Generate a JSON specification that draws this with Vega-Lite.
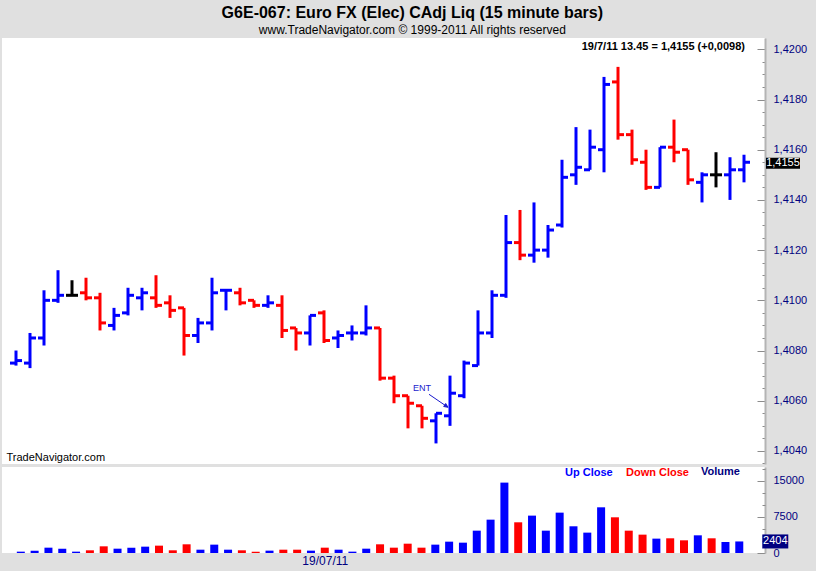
{
  "$schema": "https://vega.github.io/schema/vega-lite/v6.json",
  "background": "#e0e0e0",
  "padding": {"left": 2, "top": 5, "right": 20, "bottom": 10},
  "config": {
    "locale": {"number": {"decimal": ",", "thousands": ".", "grouping": [3], "currency": ["", " €"]}},
    "view": {"stroke": null, "fill": "white"},
    "font": "Liberation Sans",
    "axis": {"grid": false}
  },
  "title": {
    "text": "G6E-067:  Euro FX (Elec) CAdj Liq  (15 minute bars)",
    "subtitle": "www.TradeNavigator.com © 1999-2011 All rights reserved",
    "font": "Liberation Sans",
    "fontSize": 16,
    "fontWeight": "bold",
    "color": "black",
    "subtitleFont": "Liberation Sans",
    "subtitleFontSize": 12,
    "subtitleColor": "black",
    "subtitlePadding": 4,
    "anchor": "middle",
    "dx": 8,
    "offset": 2
  },
  "datasets": {
    "bars": [
      {"bar": 0, "open": 1.4075, "high": 1.4080, "low": 1.4074, "close": 1.4076, "volume": 280, "dir": "up", "vol_close": "Up Close"},
      {"bar": 1, "open": 1.4075, "high": 1.4087, "low": 1.4073, "close": 1.4085, "volume": 490, "dir": "up", "vol_close": "Up Close"},
      {"bar": 2, "open": 1.4085, "high": 1.4104, "low": 1.4082, "close": 1.4100, "volume": 1110, "dir": "up", "vol_close": "Up Close"},
      {"bar": 3, "open": 1.4100, "high": 1.4112, "low": 1.4099, "close": 1.4102, "volume": 900, "dir": "up", "vol_close": "Up Close"},
      {"bar": 4, "open": 1.4102, "high": 1.4108, "low": 1.4102, "close": 1.4102, "volume": 280, "dir": "unch", "vol_close": "Up Close"},
      {"bar": 5, "open": 1.4103, "high": 1.4109, "low": 1.4100, "close": 1.4101, "volume": 560, "dir": "down", "vol_close": "Down Close"},
      {"bar": 6, "open": 1.4101, "high": 1.4103, "low": 1.4088, "close": 1.4091, "volume": 1390, "dir": "down", "vol_close": "Down Close"},
      {"bar": 7, "open": 1.4090, "high": 1.4097, "low": 1.4088, "close": 1.4094, "volume": 900, "dir": "up", "vol_close": "Up Close"},
      {"bar": 8, "open": 1.4095, "high": 1.4105, "low": 1.4094, "close": 1.4102, "volume": 1110, "dir": "up", "vol_close": "Up Close"},
      {"bar": 9, "open": 1.4101, "high": 1.4105, "low": 1.4096, "close": 1.4103, "volume": 1320, "dir": "up", "vol_close": "Up Close"},
      {"bar": 10, "open": 1.4101, "high": 1.4110, "low": 1.4097, "close": 1.4098, "volume": 1530, "dir": "down", "vol_close": "Down Close"},
      {"bar": 11, "open": 1.4099, "high": 1.4102, "low": 1.4093, "close": 1.4096, "volume": 560, "dir": "down", "vol_close": "Down Close"},
      {"bar": 12, "open": 1.4097, "high": 1.4097, "low": 1.4078, "close": 1.4086, "volume": 1810, "dir": "down", "vol_close": "Down Close"},
      {"bar": 13, "open": 1.4086, "high": 1.4093, "low": 1.4083, "close": 1.4091, "volume": 690, "dir": "up", "vol_close": "Up Close"},
      {"bar": 14, "open": 1.4091, "high": 1.4109, "low": 1.4088, "close": 1.4103, "volume": 1740, "dir": "up", "vol_close": "Up Close"},
      {"bar": 15, "open": 1.4104, "high": 1.4104, "low": 1.4096, "close": 1.4104, "volume": 690, "dir": "up", "vol_close": "Up Close"},
      {"bar": 16, "open": 1.4103, "high": 1.4105, "low": 1.4098, "close": 1.4099, "volume": 560, "dir": "down", "vol_close": "Down Close"},
      {"bar": 17, "open": 1.4100, "high": 1.4100, "low": 1.4097, "close": 1.4098, "volume": 280, "dir": "down", "vol_close": "Down Close"},
      {"bar": 18, "open": 1.4098, "high": 1.4102, "low": 1.4097, "close": 1.4099, "volume": 490, "dir": "up", "vol_close": "Up Close"},
      {"bar": 19, "open": 1.4098, "high": 1.4102, "low": 1.4085, "close": 1.4088, "volume": 690, "dir": "down", "vol_close": "Down Close"},
      {"bar": 20, "open": 1.4089, "high": 1.4089, "low": 1.4080, "close": 1.4087, "volume": 690, "dir": "down", "vol_close": "Down Close"},
      {"bar": 21, "open": 1.4087, "high": 1.4094, "low": 1.4082, "close": 1.4094, "volume": 490, "dir": "up", "vol_close": "Up Close"},
      {"bar": 22, "open": 1.4095, "high": 1.4096, "low": 1.4083, "close": 1.4084, "volume": 1110, "dir": "down", "vol_close": "Down Close"},
      {"bar": 23, "open": 1.4085, "high": 1.4088, "low": 1.4081, "close": 1.4086, "volume": 690, "dir": "up", "vol_close": "Up Close"},
      {"bar": 24, "open": 1.4087, "high": 1.4090, "low": 1.4084, "close": 1.4087, "volume": 280, "dir": "up", "vol_close": "Up Close"},
      {"bar": 25, "open": 1.4087, "high": 1.4098, "low": 1.4086, "close": 1.4089, "volume": 900, "dir": "up", "vol_close": "Up Close"},
      {"bar": 26, "open": 1.4089, "high": 1.4089, "low": 1.4068, "close": 1.4069, "volume": 1810, "dir": "down", "vol_close": "Down Close"},
      {"bar": 27, "open": 1.4069, "high": 1.4070, "low": 1.4059, "close": 1.4062, "volume": 1110, "dir": "down", "vol_close": "Down Close"},
      {"bar": 28, "open": 1.4062, "high": 1.4062, "low": 1.4049, "close": 1.4059, "volume": 1940, "dir": "down", "vol_close": "Down Close"},
      {"bar": 29, "open": 1.4058, "high": 1.4058, "low": 1.4049, "close": 1.4053, "volume": 1110, "dir": "down", "vol_close": "Down Close"},
      {"bar": 30, "open": 1.4052, "high": 1.4055, "low": 1.4043, "close": 1.4055, "volume": 1740, "dir": "up", "vol_close": "Up Close"},
      {"bar": 31, "open": 1.4054, "high": 1.4070, "low": 1.4050, "close": 1.4063, "volume": 2360, "dir": "up", "vol_close": "Up Close", "note": "ENT"},
      {"bar": 32, "open": 1.4062, "high": 1.4076, "low": 1.4061, "close": 1.4075, "volume": 2150, "dir": "up", "vol_close": "Up Close"},
      {"bar": 33, "open": 1.4074, "high": 1.4096, "low": 1.4074, "close": 1.4087, "volume": 4650, "dir": "up", "vol_close": "Up Close"},
      {"bar": 34, "open": 1.4087, "high": 1.4104, "low": 1.4085, "close": 1.4102, "volume": 6940, "dir": "up", "vol_close": "Up Close"},
      {"bar": 35, "open": 1.4102, "high": 1.4134, "low": 1.4101, "close": 1.4123, "volume": 14650, "dir": "up", "vol_close": "Up Close"},
      {"bar": 36, "open": 1.4123, "high": 1.4136, "low": 1.4116, "close": 1.4118, "volume": 6390, "dir": "down", "vol_close": "Down Close"},
      {"bar": 37, "open": 1.4118, "high": 1.4139, "low": 1.4115, "close": 1.4120, "volume": 7780, "dir": "up", "vol_close": "Up Close"},
      {"bar": 38, "open": 1.4120, "high": 1.4130, "low": 1.4117, "close": 1.4128, "volume": 4650, "dir": "up", "vol_close": "Up Close"},
      {"bar": 39, "open": 1.4130, "high": 1.4156, "low": 1.4129, "close": 1.4149, "volume": 8400, "dir": "up", "vol_close": "Up Close"},
      {"bar": 40, "open": 1.4150, "high": 1.4169, "low": 1.4146, "close": 1.4153, "volume": 5560, "dir": "up", "vol_close": "Up Close"},
      {"bar": 41, "open": 1.4152, "high": 1.4168, "low": 1.4152, "close": 1.4161, "volume": 4240, "dir": "up", "vol_close": "Up Close"},
      {"bar": 42, "open": 1.4160, "high": 1.4189, "low": 1.4151, "close": 1.4186, "volume": 9510, "dir": "up", "vol_close": "Up Close"},
      {"bar": 43, "open": 1.4187, "high": 1.4193, "low": 1.4164, "close": 1.4166, "volume": 7430, "dir": "down", "vol_close": "Down Close"},
      {"bar": 44, "open": 1.4166, "high": 1.4168, "low": 1.4154, "close": 1.4156, "volume": 4650, "dir": "down", "vol_close": "Down Close"},
      {"bar": 45, "open": 1.4155, "high": 1.4160, "low": 1.4144, "close": 1.4145, "volume": 3820, "dir": "down", "vol_close": "Down Close"},
      {"bar": 46, "open": 1.4145, "high": 1.4161, "low": 1.4145, "close": 1.4161, "volume": 2990, "dir": "up", "vol_close": "Up Close"},
      {"bar": 47, "open": 1.4161, "high": 1.4172, "low": 1.4155, "close": 1.4159, "volume": 3060, "dir": "down", "vol_close": "Down Close"},
      {"bar": 48, "open": 1.4160, "high": 1.4160, "low": 1.4146, "close": 1.4148, "volume": 2640, "dir": "down", "vol_close": "Down Close"},
      {"bar": 49, "open": 1.4147, "high": 1.4151, "low": 1.4139, "close": 1.4150, "volume": 3680, "dir": "up", "vol_close": "Up Close"},
      {"bar": 50, "open": 1.4150, "high": 1.4159, "low": 1.4145, "close": 1.4150, "volume": 3060, "dir": "unch", "vol_close": "Down Close"},
      {"bar": 51, "open": 1.4150, "high": 1.4157, "low": 1.4140, "close": 1.4152, "volume": 2290, "dir": "up", "vol_close": "Up Close"},
      {"bar": 52, "open": 1.4152, "high": 1.4158, "low": 1.4147, "close": 1.4155, "volume": 2404, "dir": "up", "vol_close": "Up Close"}
    ]
  },
  "data": {"name": "bars"},
  "spacing": 3,
  "bounds": "flush",
  "resolve": {"scale": {"color": "independent"}, "legend": {"color": "independent"}},
  "vconcat": [
    {
      "width": 763,
      "height": 426,
      "resolve": {"axis": {"y": "independent"}},
      "title": {
        "text": "19/7/11 13.45 = 1,4155 (+0,0098)",
        "anchor": "end",
        "frame": "group",
        "offset": -14,
        "dx": -20,
        "fontSize": 11,
        "fontWeight": "bold",
        "color": "black",
        "font": "Liberation Sans"
      },
      "encoding": {
        "x": {
          "field": "bar",
          "type": "quantitative",
          "scale": {"domain": [-1, 53.5], "nice": false, "zero": false},
          "axis": {
            "title": "TradeNavigator.com",
            "labels": false,
            "ticks": false,
            "domain": false,
            "minExtent": 0,
            "maxExtent": 0,
            "titleAnchor": "start",
            "titleAlign": "left",
            "titleBaseline": "bottom",
            "titleX": 4,
            "titleY": -2,
            "titleFontSize": 11,
            "titleFontWeight": "normal",
            "titleColor": "black"
          }
        }
      },
      "layer": [
        {
          "mark": {"type": "rule", "strokeWidth": 3},
          "encoding": {
            "y": {
              "field": "low",
              "type": "quantitative",
              "scale": {"domain": [1.40348, 1.42045], "nice": false, "zero": false},
              "axis": {
                "orient": "right",
                "title": null,
                "values": [1.4035, 1.4045, 1.405, 1.4055, 1.4065, 1.407, 1.4075, 1.4085, 1.409, 1.4095, 1.4105, 1.411, 1.4115, 1.4125, 1.413, 1.4135, 1.4145, 1.415, 1.4155, 1.4165, 1.417, 1.4175, 1.4185, 1.419, 1.4195],
                "labels": false,
                "domain": false,
                "minExtent": 0,
                "maxExtent": 0,
                "tickColor": "#8c8c8c",
                "tickSize": -3
              }
            },
            "y2": {"field": "high"},
            "color": {
              "field": "dir",
              "type": "nominal",
              "scale": {"domain": ["up", "down", "unch"], "range": ["#0000ff", "#ff0000", "#000000"]},
              "legend": null
            }
          }
        },
        {
          "mark": {"type": "rule", "strokeWidth": 3, "xOffset": -6},
          "encoding": {
            "x2": {"field": "bar"},
            "y": {
              "field": "open",
              "type": "quantitative",
              "scale": {"domain": [1.40348, 1.42045], "nice": false, "zero": false},
              "axis": {
                "orient": "right",
                "title": null,
                "values": [1.404, 1.406, 1.408, 1.41, 1.412, 1.414, 1.416, 1.418, 1.42],
                "format": ".4f",
                "labelColor": "#000080",
                "labelFontSize": 11,
                "labelPadding": 16,
                "domainColor": "#b4b4b4",
                "domainWidth": 2,
                "tickColor": "#8c8c8c",
                "tickSize": -8
              }
            },
            "color": {"field": "dir", "type": "nominal", "legend": null}
          }
        },
        {
          "mark": {"type": "rule", "strokeWidth": 3, "x2Offset": 6},
          "encoding": {
            "x2": {"field": "bar"},
            "y": {"field": "close", "type": "quantitative", "scale": {"domain": [1.40348, 1.42045], "nice": false, "zero": false}, "axis": null},
            "color": {"field": "dir", "type": "nominal", "legend": null}
          }
        },
        {
          "transform": [{"filter": "datum.note"}],
          "mark": {"type": "text", "fontSize": 9, "color": "#1a1acd", "dx": -28, "dy": -28, "align": "center", "baseline": "middle"},
          "encoding": {
            "y": {"field": "open", "type": "quantitative", "scale": {"domain": [1.40348, 1.42045], "nice": false, "zero": false}, "axis": null},
            "text": {"field": "note"}
          }
        },
        {
          "transform": [{"filter": "datum.note"}],
          "mark": {"type": "point", "shape": "M-0.95,-0.65L0.7,0.48M0.95,0.65L0.72,0.27L0.52,0.57Z", "size": 400, "filled": true, "fill": "#1a1acd", "stroke": "#1a1acd", "strokeWidth": 1, "opacity": 1, "xOffset": -11.5, "yOffset": -15},
          "encoding": {
            "y": {"field": "open", "type": "quantitative", "scale": {"domain": [1.40348, 1.42045], "nice": false, "zero": false}, "axis": null}
          }
        },
        {
          "transform": [{"filter": "datum.bar == 52"}],
          "mark": {"type": "point", "shape": "M-1,-0.32H1V0.32H-1Z", "size": 1156, "filled": true, "color": "black", "opacity": 1, "xOffset": 39, "yOffset": 1},
          "encoding": {
            "y": {"field": "close", "type": "quantitative", "scale": {"domain": [1.40348, 1.42045], "nice": false, "zero": false}, "axis": null}
          }
        },
        {
          "transform": [{"filter": "datum.bar == 52"}],
          "mark": {"type": "text", "color": "white", "fontSize": 11, "dx": 39, "dy": 1, "align": "center", "baseline": "middle"},
          "encoding": {
            "y": {"field": "close", "type": "quantitative", "scale": {"domain": [1.40348, 1.42045], "nice": false, "zero": false}, "axis": null},
            "text": {"field": "close", "type": "quantitative", "format": ".4f"}
          }
        }
      ]
    },
    {
      "width": 763,
      "height": 86,
      "resolve": {"axis": {"y": "independent"}},
      "encoding": {
        "x": {
          "field": "bar",
          "type": "quantitative",
          "scale": {"domain": [-1, 53.5], "nice": false, "zero": false},
          "axis": {
            "title": null,
            "values": [22],
            "labelExpr": "'19/07/11'",
            "ticks": false,
            "domain": false,
            "labelColor": "#000080",
            "labelFontSize": 12,
            "labelPadding": 2
          }
        }
      },
      "layer": [
        {
          "mark": {"type": "bar", "width": 8, "orient": "vertical"},
          "encoding": {
            "y": {
              "field": "volume",
              "type": "quantitative",
              "scale": {"domain": [0, 17900], "nice": false},
              "axis": {
                "orient": "right",
                "title": null,
                "values": [0, 7500, 15000],
                "format": "d",
                "labelColor": "#000080",
                "labelFontSize": 11,
                "labelPadding": 16,
                "domainColor": "#b4b4b4",
                "domainWidth": 2,
                "tickColor": "#8c8c8c",
                "tickSize": -8
              }
            },
            "color": {
              "field": "vol_close",
              "type": "nominal",
              "scale": {"domain": ["Up Close", "Down Close"], "range": ["#0000ff", "#ff0000"]},
              "legend": {
                "orient": "none",
                "legendX": 552,
                "legendY": 0,
                "direction": "horizontal",
                "title": "Volume",
                "titleOrient": "right",
                "titleColor": "#000080",
                "titleFontSize": 11,
                "titleFontWeight": "bold",
                "titlePadding": 12,
                "labelFontSize": 11,
                "labelFontWeight": "bold",
                "labelOffset": 0,
                "symbolSize": 0,
                "symbolStrokeWidth": 0,
                "symbolOpacity": 0,
                "columnPadding": 2,
                "padding": 0,
                "encode": {"labels": {"update": {"fill": {"signal": "datum.value === 'Down Close' ? '#ff0000' : '#0000ff'"}}}}
              }
            }
          }
        },
        {
          "transform": [{"filter": "datum.bar == 52"}],
          "mark": {"type": "tick", "opacity": 0},
          "encoding": {
            "y": {
              "field": "volume",
              "type": "quantitative",
              "scale": {"domain": [0, 17900], "nice": false},
              "axis": {
                "orient": "right",
                "title": null,
                "values": [2500, 5000, 10000, 12500, 17500],
                "labels": false,
                "domain": false,
                "minExtent": 0,
                "maxExtent": 0,
                "tickColor": "#8c8c8c",
                "tickSize": -3
              }
            }
          }
        },
        {
          "transform": [{"filter": "datum.bar == 52"}],
          "mark": {"type": "point", "shape": "M-1,-0.54H1V0.54H-1Z", "size": 676, "filled": true, "color": "#000080", "opacity": 1, "xOffset": 36},
          "encoding": {
            "y": {"field": "volume", "type": "quantitative", "scale": {"domain": [0, 17900], "nice": false}, "axis": null}
          }
        },
        {
          "transform": [{"filter": "datum.bar == 52"}],
          "mark": {"type": "text", "color": "white", "fontSize": 11, "dx": 36, "align": "center", "baseline": "middle"},
          "encoding": {
            "y": {"field": "volume", "type": "quantitative", "scale": {"domain": [0, 17900], "nice": false}, "axis": null},
            "text": {"field": "volume", "type": "quantitative", "format": "d"}
          }
        }
      ]
    }
  ]
}
